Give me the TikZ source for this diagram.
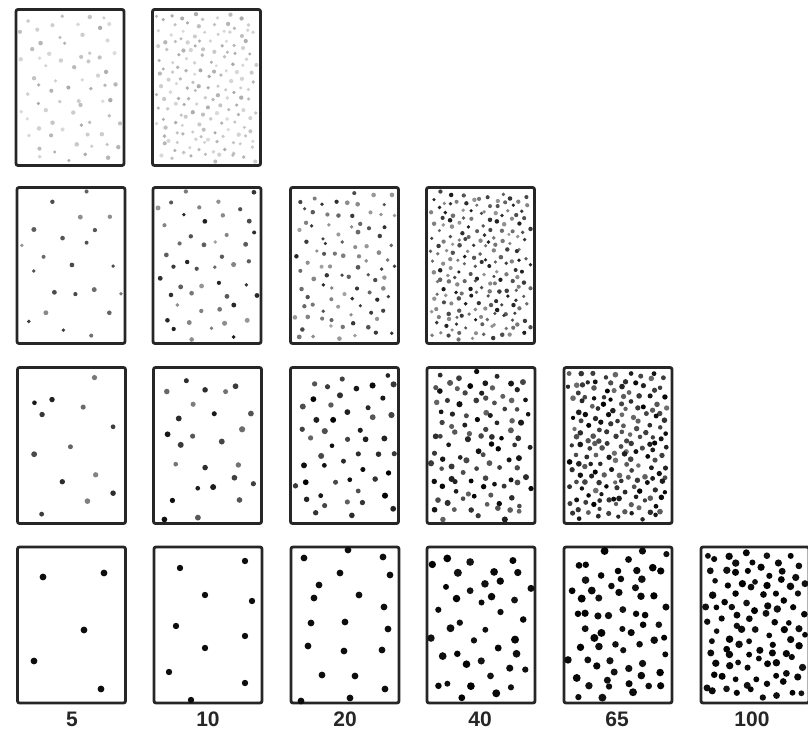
\documentclass[tikz,border=0pt]{standalone}
\usepackage{fontspec}
\setmainfont{Liberation Sans}
\tikzset{
  panel/.style={draw=black!85, line width=2.8pt, rounded corners=2pt, fill=white,
    minimum width=108pt, minimum height=156pt, inner sep=0pt},
  numlabel/.style={font=\fontsize{21}{21}\selectfont\bfseries, text=black!85, inner sep=0pt}
}
% #1 cx, #2 cy, #3 N, #4 radius, #5 gray min, #6 gray max, #7 phase
\newcommand\scatterdots[7]{%
  \pgfmathsetmacro\spc{sqrt(99/#3*147)}%
  \pgfmathsetmacro\stp{147/#3}%
  \foreach \i in {1,...,#3}{%
    \pgfmathsetmacro\px{#1-49.5+99*mod(\i*0.6180339+#7,1)+0.32*\spc*rand}%
    \pgfmathsetmacro\py{#2-73.5+\stp*(\i-0.5)+0.32*\spc*rand}%
    \pgfmathsetmacro\px{min(max(\px,#1-50),#1+50)}%
    \pgfmathsetmacro\py{min(max(\py,#2-74),#2+74)}%
    \pgfmathsetmacro\gg{#5+(#6-#5)*rnd}%
    \pgfmathsetmacro\rr{#4*(0.85+0.3*rnd)}%
    \fill[black!\gg] (\px,\py) circle[radius=\rr];
  }%
}
\begin{document}
\begin{tikzpicture}[x=1pt,y=-1pt]
\clip (0,0) rectangle (808,735);
\fill[white] (0,0) rectangle (808,735);
\pgfmathsetseed{4242}
% row 1
\node[panel] (p11) at (70,87.5) {};
\node[panel] (p12) at (206.5,87.5) {};
% row 2
\node[panel] (p21) at (71,265.5) {};
\node[panel] (p22) at (207,265.5) {};
\node[panel] (p23) at (344.5,265.5) {};
\node[panel] (p24) at (480.5,265.5) {};
% row 3
\node[panel] (p31) at (71.5,445.5) {};
\node[panel] (p32) at (207.5,445.5) {};
\node[panel] (p33) at (344.5,445.5) {};
\node[panel] (p34) at (481,445.5) {};
\node[panel] (p35) at (618,445.5) {};
% row 4
\node[panel] (p41) at (71.5,625) {};
\node[panel] (p42) at (208,625) {};
\node[panel] (p43) at (345,625) {};
\node[panel] (p44) at (481,625) {};
\node[panel] (p45) at (618,625) {};
\node[panel] (p46) at (755,625) {};
% dots row 1
\scatterdots{70}{87.5}{70}{2.0}{14}{34}{0.21}
\scatterdots{206.5}{87.5}{170}{1.9}{14}{34}{0.53}
% dots row 2
\scatterdots{71}{265.5}{22}{2.2}{35}{85}{0.11}
\scatterdots{207}{265.5}{48}{2.2}{35}{90}{0.71}
\scatterdots{344.5}{265.5}{95}{2.1}{35}{85}{0.33}
\scatterdots{480.5}{265.5}{210}{2.0}{40}{90}{0.47}
% dots row 3
\scatterdots{71.5}{445.5}{13}{2.7}{45}{95}{0.17}
\scatterdots{207.5}{445.5}{25}{2.7}{50}{95}{0.61}
\scatterdots{344.5}{445.5}{50}{2.7}{60}{100}{0.29}
\scatterdots{481}{445.5}{105}{2.7}{60}{100}{0.83}
\scatterdots{618}{445.5}{185}{2.5}{55}{100}{0.41}
% dots row 4
\foreach \x/\y in {43/577,104/573,84/630,34/661,101/689}
  \fill[black!95] (\x,\y) circle[radius=3.4];
\foreach \x/\y in {180/568,245/561,205/595,252/601,176/626,245/636,205/648,169/672,245/683,191/700}
  \fill[black!95] (\x,\y) circle[radius=3.2];
\foreach \x/\y in {304/558,348/550,383/557,340/573,390/575,319/585,314/598,359/595,384/607,311/623,345/622,388/629,308/646,344/651,382/650,322/675,355/676,385/689,301/701,350/698}
  \fill[black!95] (\x,\y) circle[radius=3.4];
\scatterdots{481}{625}{40}{3.5}{92}{100}{0.57}
\scatterdots{618}{625}{65}{3.5}{92}{100}{0.13}
\scatterdots{755}{625}{100}{3.3}{92}{100}{0.77}
% labels
\node[numlabel] (l1) at (72,719) {5};
\node[numlabel] (l2) at (208,719) {10};
\node[numlabel] (l3) at (345,719) {20};
\node[numlabel] (l4) at (480,719) {40};
\node[numlabel] (l5) at (617,719) {65};
\node[numlabel] (l6) at (752,719) {100};
\end{tikzpicture}
\end{document}
